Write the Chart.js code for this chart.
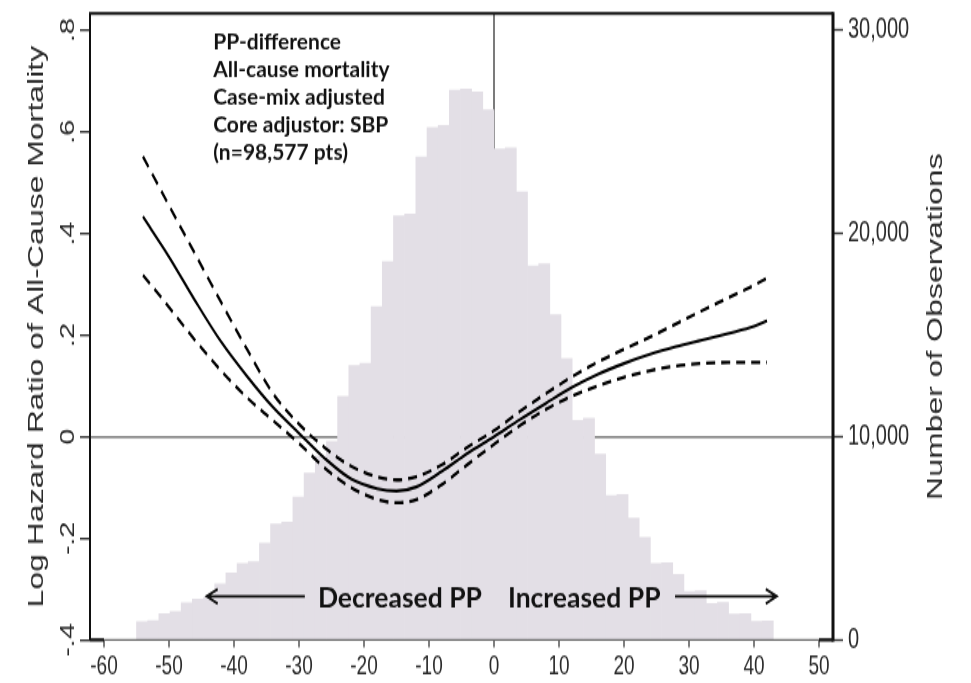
<!DOCTYPE html>
<html>
<head>
<meta charset="utf-8">
<script src="https://cdn.jsdelivr.net/npm/chart.js@4.4.1/dist/chart.umd.min.js"></script>
<style>
  html, body { margin: 0; padding: 0; background: #fff; }
</style>
</head>
<body>
<!-- the original figure is stretched vertically, so the canvas is drawn short and shown tall -->
<canvas id="chart" width="971" height="470" style="display:block;width:971px;height:683px"></canvas>
<script>
const STRETCH = 683 / 470;

// histogram of PP-difference (bin centres) and number of observations per bin
const binCenters = [-54.14, -52.42, -50.70, -48.98, -47.27, -45.55, -43.83, -42.11, -40.39, -38.67,
  -36.95, -35.23, -33.52, -31.80, -30.08, -28.36, -26.64, -24.92, -23.20, -21.48,
  -19.77, -18.05, -16.33, -14.61, -12.89, -11.17, -9.45, -7.73, -6.02, -4.30,
  -2.58, -0.86, 0.86, 2.58, 4.30, 6.02, 7.73, 9.45, 11.17, 12.89,
  14.61, 16.33, 18.05, 19.77, 21.48, 23.20, 24.92, 26.64, 28.36, 30.08,
  31.80, 33.52, 35.23, 36.95, 38.67, 40.39, 42.11];
const binCounts = [900, 960, 1300, 1400, 1820, 2000, 2100, 2750, 3290, 3750,
  3850, 4760, 5700, 5800, 7020, 8200, 9050, 9770, 11980, 13500,
  13600, 16400, 18600, 20850, 20950, 23760, 25200, 25300, 27050, 27100,
  26950, 26070, 24150, 24200, 22040, 18400, 18500, 16000, 13840, 10800,
  10900, 9130, 7100, 7150, 6000, 5050, 3750, 3800, 3220, 2380,
  2420, 1800, 1850, 1270, 1300, 920, 940];

// spline estimate with 95% CI
const curveX = [-54, -50, -46, -42, -38, -34, -30, -26, -22, -18, -15, -12, -8, -4, 0, 4, 8, 12, 16, 20, 24, 28, 32, 36, 40, 42];
const logHR = [0.433, 0.354, 0.268, 0.187, 0.119, 0.058, 0.007, -0.043, -0.083, -0.102, -0.107, -0.099, -0.068, -0.032, 0.000, 0.034, 0.066, 0.097, 0.123, 0.144, 0.162, 0.177, 0.190, 0.203, 0.217, 0.228];
const upperCI = [0.551, 0.455, 0.360, 0.265, 0.172, 0.085, 0.025, -0.022, -0.058, -0.079, -0.085, -0.079, -0.055, -0.020, 0.012, 0.050, 0.085, 0.118, 0.147, 0.172, 0.196, 0.222, 0.248, 0.273, 0.298, 0.312];
const lowerCI = [0.318, 0.255, 0.190, 0.130, 0.077, 0.032, -0.013, -0.062, -0.100, -0.123, -0.130, -0.124, -0.094, -0.054, -0.015, 0.022, 0.054, 0.080, 0.100, 0.117, 0.130, 0.139, 0.144, 0.146, 0.146, 0.146];

const rightTicks = [0, 10000, 20000, 30000];

const noteLines = ['PP-difference', 'All-cause mortality', 'Case-mix adjusted', 'Core adjustor: SBP', '(n=98,577 pts)'];
const leftTitle = 'Log Hazard Ratio of All-Cause Mortality';
const rightTitle = 'Number of Observations';

const axisFont = '"Liberation Sans", Arial, sans-serif';
const noteFont = 'Lato, "Open Sans", sans-serif';

function pts(xs, ys) {
  return xs.map((v, i) => ({x: v, y: ys[i]}));
}

// text from the overlay was not stretched, so squeeze it back
function flatText(ctx, text, px, py, align) {
  ctx.save();
  ctx.translate(px, py);
  ctx.scale(1, 1 / STRETCH);
  ctx.textAlign = align;
  ctx.textBaseline = 'middle';
  ctx.fillText(text, 0, 0);
  ctx.restore();
}

function arrow(ctx, x0, x1, py) {
  const dir = Math.sign(x1 - x0);
  ctx.beginPath();
  ctx.moveTo(x0, py);
  ctx.lineTo(x1, py);
  ctx.moveTo(x1 - dir * 11, py - 5);
  ctx.lineTo(x1, py);
  ctx.lineTo(x1 - dir * 11, py + 5);
  ctx.stroke();
}

// keep the plot box where the original has it, whatever the label overhang
function noPad(s) {
  s.paddingTop = 0; s.paddingBottom = 0; s.paddingLeft = 0; s.paddingRight = 0;
}

const overlay = {
  id: 'overlay',
  afterDraw(chart) {
    const {ctx, chartArea: a, scales: {x, y}} = chart;
    ctx.save();

    // frame
    ctx.lineCap = 'butt';
    ctx.strokeStyle = '#6a6a6a';
    ctx.lineWidth = 1.4;
    ctx.beginPath(); ctx.moveTo(a.left, a.bottom); ctx.lineTo(a.right, a.bottom); ctx.stroke();
    ctx.strokeStyle = '#111';
    ctx.lineWidth = 2.2;
    ctx.beginPath();
    ctx.moveTo(a.left, a.bottom); ctx.lineTo(x.getPixelForValue(-60), a.bottom);
    ctx.moveTo(x.getPixelForValue(50), a.bottom); ctx.lineTo(a.right, a.bottom);
    ctx.stroke();
    ctx.lineWidth = 2;
    ctx.beginPath();
    ctx.moveTo(a.left, a.bottom); ctx.lineTo(a.left, a.top); ctx.lineTo(a.right, a.top);
    ctx.stroke();
    ctx.lineWidth = 3;
    ctx.beginPath(); ctx.moveTo(a.right, a.top - 1); ctx.lineTo(a.right, a.bottom + 1); ctx.stroke();

    // note block
    ctx.fillStyle = '#111';
    ctx.font = 'bold 21px ' + noteFont;
    const noteY = [0.774, 0.720, 0.666, 0.612, 0.558];
    noteLines.forEach((t, i) => flatText(ctx, t, x.getPixelForValue(-43.2), y.getPixelForValue(noteY[i]), 'left'));

    // direction arrows
    ctx.font = 'bold 26.5px ' + noteFont;
    flatText(ctx, 'Decreased PP', x.getPixelForValue(-1.85), y.getPixelForValue(-0.32), 'right');
    flatText(ctx, 'Increased PP', x.getPixelForValue(2.15), y.getPixelForValue(-0.32), 'left');
    ctx.strokeStyle = '#111';
    ctx.lineWidth = 1.8;
    const ay = y.getPixelForValue(-0.314);
    arrow(ctx, x.getPixelForValue(-29.1), x.getPixelForValue(-44.2), ay);
    arrow(ctx, x.getPixelForValue(27.85), x.getPixelForValue(43.5), ay);

    // right axis title (reads upwards like the left one)
    ctx.fillStyle = '#2a2a2a';
    ctx.font = '22px ' + axisFont;
    ctx.translate(936, (a.top + a.bottom) / 2);
    ctx.rotate(-Math.PI / 2);
    ctx.textAlign = 'center';
    ctx.textBaseline = 'middle';
    ctx.fillText(rightTitle, 0, 0);
    ctx.restore();
  }
};

const zeroOnly = (color) => (c) => (c.tick && Math.abs(c.tick.value) < 1e-9 ? color : 'rgba(0,0,0,0)');

new Chart(document.getElementById('chart'), {
  type: 'bar',
  data: {
    datasets: [
      {
        type: 'line', data: pts(curveX, logHR), yAxisID: 'y',
        borderColor: '#000', borderWidth: 2.1, pointRadius: 0, fill: false,
        cubicInterpolationMode: 'monotone', order: 1
      },
      {
        type: 'line', data: pts(curveX, upperCI), yAxisID: 'y',
        borderColor: '#000', borderWidth: 2.3, borderDash: [9, 6], pointRadius: 0, fill: false,
        cubicInterpolationMode: 'monotone', order: 2
      },
      {
        type: 'line', data: pts(curveX, lowerCI), yAxisID: 'y',
        borderColor: '#000', borderWidth: 2.3, borderDash: [9, 6], pointRadius: 0, fill: false,
        cubicInterpolationMode: 'monotone', order: 3
      },
      {
        type: 'bar', data: pts(binCenters, binCounts), yAxisID: 'y2',
        backgroundColor: '#e3dfe6', borderWidth: 0,
        barPercentage: 1, categoryPercentage: 1, grouped: false, order: 10
      }
    ]
  },
  options: {
    responsive: false,
    devicePixelRatio: 1,
    animation: false,
    layout: { padding: { top: 9.15, left: 0, right: 0, bottom: 0 } },
    plugins: { legend: { display: false }, tooltip: { enabled: false } },
    scales: {
      x: {
        type: 'linear', position: 'bottom', offset: false, z: 1,
        min: -62.15, max: 52.15,
        afterFit: (s) => { s.height = 29.6; noPad(s); },
        border: { display: false },
        grid: { offset: false, color: zeroOnly('#7b7b7b'), lineWidth: 2, tickColor: '#555', tickWidth: 1.5, tickLength: 5 },
        ticks: {
          stepSize: 10, includeBounds: false, autoSkip: false, maxRotation: 0, padding: 2,
          color: '#2a2a2a', font: { family: axisFont, size: 19 }
        }
      },
      y: {
        type: 'linear', position: 'left', z: 1,
        min: -0.4, max: 0.833,
        afterFit: (s) => { s.width = 90; noPad(s); },
        border: { display: false },
        grid: { color: zeroOnly('#7b7b7b'), lineWidth: 1.4, tickColor: '#333', tickWidth: 1.4, tickLength: 10 },
        title: {
          display: true, text: leftTitle, color: '#2a2a2a',
          font: { family: axisFont, size: 22 }, padding: { top: 24, bottom: 0 }
        },
        ticks: {
          stepSize: 0.2, includeBounds: false, minRotation: 90, maxRotation: 90,
          crossAlign: 'center', padding: 0, color: '#2a2a2a', font: { family: axisFont, size: 20 },
          callback: (v) => {
            const r = Math.round(v * 10) / 10;
            if (r === 0) return '0';
            return (r < 0 ? '-' : '') + String(Math.abs(r)).replace(/^0/, '');
          }
        }
      },
      y2: {
        type: 'linear', position: 'right',
        min: 0, max: 30825,
        afterFit: (s) => { s.width = 138; noPad(s); },
        afterBuildTicks: (s) => { s.ticks = rightTicks.map((v) => ({value: v})); },
        border: { display: false },
        grid: { drawOnChartArea: false, tickColor: '#333', tickWidth: 1.4, tickLength: 10 },
        ticks: {
          padding: 5, color: '#2a2a2a', font: { family: axisFont, size: 20 },
          callback: (v) => v.toLocaleString('en-US')
        }
      }
    }
  },
  plugins: [overlay]
});
</script>
</body>
</html>
